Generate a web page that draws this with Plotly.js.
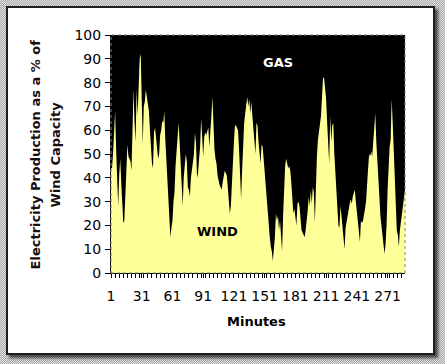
<!DOCTYPE html>
<html>
<head>
<meta charset="utf-8">
<script src="https://cdn.plot.ly/plotly-3.0.1.min.js"></script>
<style>
  html, body { margin: 0; padding: 0; }
  body {
    width: 445px; height: 364px; position: relative; overflow: hidden;
    background: repeating-conic-gradient(#a8a8a8 0 25%, #e2e2e2 0 50%) 0 0 / 2px 2px;
  }
  #frame {
    position: absolute; left: 6px; top: 6px; width: 425px; height: 345px;
    background: #ffffff; border: 2px solid #1e1e1e;
    box-shadow: 3px 3px 3px rgba(0,0,0,0.65);
  }
  #chart { position: absolute; left: 0; top: 0; width: 445px; height: 364px; }
</style>
</head>
<body>
<div id="frame"></div>
<div id="chart"></div>
<script>
// Wind output as % of wind capacity, one value per minute
const WIND_PCT = [
  44, 44, 50, 60, 68, 52, 43, 28, 41, 48,
  38, 30, 21, 22, 30, 43, 54, 49, 48, 47,
  43, 58, 77, 63, 55, 77, 66, 78, 90, 92,
  74, 54, 70, 72, 77, 74, 73, 68, 60, 52,
  46, 44, 59, 61, 57, 52, 48, 50, 58, 60,
  64, 63, 68, 56, 48, 42, 35, 24, 15, 19,
  22, 30, 34, 45, 52, 59, 63, 55, 46, 43,
  28, 40, 45, 50, 47, 36, 35, 32, 40, 43,
  45, 50, 59, 54, 40, 42, 48, 53, 65, 58,
  49, 57, 59, 58, 60, 61, 53, 63, 66, 74,
  60, 52, 48, 46, 41, 38, 37, 36, 35, 38,
  40, 43, 42, 41, 36, 31, 25, 28, 35, 46,
  55, 62, 62, 61, 60, 52, 42, 31, 43, 55,
  63, 67, 72, 74, 70, 73, 67, 72, 66, 60,
  55, 50, 63, 62, 55, 50, 46, 54, 53, 48,
  42, 40, 32, 24, 20, 15, 11, 9, 5, 10,
  15, 25, 22, 24, 18, 22, 16, 9, 24, 35,
  45, 48, 46, 44, 45, 43, 38, 30, 25, 27,
  24, 20, 29, 30, 28, 22, 18, 17, 16, 15,
  18, 21, 26, 32, 28, 35, 29, 36, 34, 21,
  41, 49, 56, 60, 62, 66, 74, 82, 82, 78,
  73, 63, 54, 46, 66, 55, 62, 63, 50, 43,
  36, 30, 20, 19, 28, 24, 18, 14, 10, 19,
  22, 25, 26, 29, 31, 29, 32, 34, 35, 30,
  25, 22, 18, 13, 22, 21, 22, 24, 27, 30,
  41, 44, 50, 49, 51, 49, 55, 60, 67, 55,
  45, 39, 32, 24, 20, 16, 13, 8, 12, 20,
  35, 46, 53, 56, 73, 63, 52, 40, 27, 18,
  16, 11, 18, 21, 24, 27, 30, 35
];
const CAPACITY_PCT = 100;
const MINUTES = WIND_PCT.map((_, i) => i + 1);
const TOTAL = MINUTES.map(() => CAPACITY_PCT);
const X_TICKS = [1, 31, 61, 91, 121, 151, 181, 211, 241, 271];
const X_TICK_TEXT = X_TICKS.map(String);
const Y_TICKS = [0, 10, 20, 30, 40, 50, 60, 70, 80, 90, 100];
const Y_TITLE_1 = 'Electricity Production as a % of';
const Y_TITLE_2 = 'Wind Capacity';
const X_TITLE = 'Minutes';
const LABEL_GAS = 'GAS';
const LABEL_WIND = 'WIND';

const FONT = 'DejaVu Sans, Verdana, sans-serif';

const traces = [
  {
    x: MINUTES, y: WIND_PCT, type: 'scatter', mode: 'lines',
    line: { width: 0, color: '#FFFF99' },
    fill: 'tozeroy', fillcolor: '#FFFF99', hoverinfo: 'skip', showlegend: false
  },
  {
    x: MINUTES, y: TOTAL, type: 'scatter', mode: 'lines',
    line: { width: 0, color: '#000000' },
    fill: 'tonexty', fillcolor: '#000000', hoverinfo: 'skip', showlegend: false
  }
];

const layout = {
  width: 445, height: 364,
  margin: { l: 111, r: 40, t: 35, b: 91, pad: 0 },
  paper_bgcolor: 'rgba(0,0,0,0)',
  plot_bgcolor: '#FFFF99',
  showlegend: false,
  xaxis: {
    range: [1, MINUTES.length],
    tickmode: 'array', tickvals: X_TICKS, ticktext: X_TICK_TEXT,
    ticks: 'outside', ticklen: 4, tickwidth: 1, tickcolor: '#000',
    minor: { ticks: 'outside', ticklen: 4, tickmode: 'linear', tick0: 1, dtick: 4, tickcolor: '#000' },
    showline: true, linecolor: '#000', linewidth: 1,
    showgrid: false, zeroline: false,
    tickfont: { family: FONT, size: 14, color: '#000' },
    ticklabelstandoff: 6,
    fixedrange: true
  },
  yaxis: {
    range: [0, 100],
    tickmode: 'array', tickvals: Y_TICKS,
    ticks: 'outside', ticklen: 5, tickwidth: 1, tickcolor: '#000',
    showline: true, linecolor: '#000', linewidth: 1,
    showgrid: false, zeroline: false,
    tickfont: { family: FONT, size: 14, color: '#000' },
    ticklabelstandoff: 1,
    fixedrange: true
  },
  shapes: [
    { type: 'rect', xref: 'paper', yref: 'paper', x0: 0, x1: 1, y0: 0, y1: 1,
      line: { color: '#808080', width: 1, dash: 'dot' }, layer: 'above' }
  ],
  annotations: [
    { text: LABEL_GAS, xref: 'x', yref: 'y', x: 164, y: 88.5, showarrow: false,
      xanchor: 'center', yanchor: 'middle',
      font: { family: FONT, size: 13, color: '#ffffff', weight: 'bold' } },
    { text: LABEL_WIND, xref: 'x', yref: 'y', x: 105, y: 17.4, showarrow: false,
      xanchor: 'center', yanchor: 'middle',
      font: { family: FONT, size: 13, color: '#000000', weight: 'bold' } },
    { text: X_TITLE, xref: 'paper', yref: 'paper', x: 0.496, y: -0.203, showarrow: false,
      xanchor: 'center', yanchor: 'middle',
      font: { family: FONT, size: 13, color: '#000000', weight: 'bold' } },
    { text: Y_TITLE_1, xref: 'paper', yref: 'paper', x: -0.257, y: 0.5, showarrow: false,
      textangle: -90, xanchor: 'center', yanchor: 'middle',
      font: { family: FONT, size: 13, color: '#1a0d0d', weight: 'bold' } },
    { text: Y_TITLE_2, xref: 'paper', yref: 'paper', x: -0.189, y: 0.5, showarrow: false,
      textangle: -90, xanchor: 'center', yanchor: 'middle',
      font: { family: FONT, size: 13, color: '#1a0d0d', weight: 'bold' } }
  ]
};

Plotly.newPlot('chart', traces, layout, { displayModeBar: false, staticPlot: true });
</script>
</body>
</html>
